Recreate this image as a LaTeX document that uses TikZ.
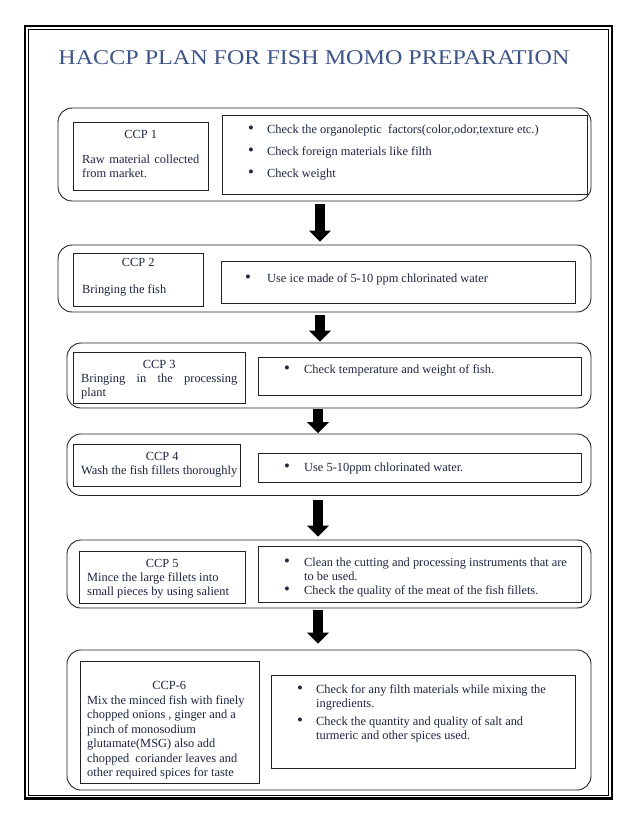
\documentclass[tikz,border=0pt]{standalone}
\usepackage{fontspec}
\usepackage{graphicx}
\setmainfont{Liberation Serif}
\usetikzlibrary{arrows.meta,fit}
\definecolor{titlecol}{HTML}{3E5687}
\definecolor{txtcol}{HTML}{1E2540}
\definecolor{linecol}{HTML}{222222}
\newcommand\bulletmark{\raisebox{-0.3pt}{\scalebox{1.35}{\textbullet}}}
\newcommand\bitem[2][17pt]{\par\noindent\hangindent=#1\hangafter=1\makebox[#1][l]{\bulletmark}#2}
\tikzset{
  obox/.style={draw=linecol, line width=0.9pt, rounded corners=14pt, inner sep=0pt},
  ibox/.style={draw=linecol, line width=0.9pt, inner sep=0pt},
  txt/.style={inner sep=0pt, anchor=base west, text=txtcol, font=\fontsize{12.4pt}{14pt}\selectfont},
  flowarrow/.style={line width=10pt, black, -{Triangle[width=22pt,length=11pt,line width=0pt]}}
}
\begin{document}
\begin{tikzpicture}[x=1pt,y=-1pt]
\useasboundingbox (0,0) rectangle (638,826);
\fill[white] (0,0) rectangle (638,826);
% page frame
\draw[line width=2.4pt] (25,26) rectangle (612,798.5);
\draw[line width=0.8pt] (28.5,29.5) rectangle (608.5,795);
% title
\node[anchor=base, inner sep=0pt, text=titlecol, font=\fontsize{21pt}{24pt}\selectfont] (title) at (314,65)
  {\scalebox{1.147}[1]{HACCP PLAN FOR FISH MOMO PREPARATION}};
\coordinate (ax1) at (320,0);
\coordinate (ax2) at (318,0);
% CCP 1
\node[obox, fit={(58,108)(591,201)}] (o1) {};
\node[ibox, fit={(73,122)(208,190.5)}] (l1) {};
\node[ibox, fit={(222,115)(587,194)}] (r1) {};
\node[txt] (lt1) at (82,139) {\parbox[t]{117pt}{\centerline{CCP 1}\vskip 11pt Raw material collected\linebreak from market.}};
\node[txt] (rt1) at (248,133.5) {\parbox[t]{327pt}{\raggedright
  \bitem[19pt]{Check the organoleptic\ \ factors(color,odor,texture etc.)}\par\vskip 8pt
  \bitem[19pt]{Check foreign materials like filth}\par\vskip 8pt
  \bitem[19pt]{Check weight}}};
% CCP 2
\node[obox, fit={(58,245)(591,312)}] (o2) {};
\node[ibox, fit={(73,253)(203,306)}] (l2) {};
\node[ibox, fit={(221,261)(575,303)}] (r2) {};
\node[txt] (lt2) at (82,266) {\parbox[t]{112pt}{\centerline{CCP 2}\vskip 13pt Bringing the fish}};
\node[txt] (rt2) at (245,282) {\parbox[t]{320pt}{\raggedright
  \bitem[22pt]{Use ice made of 5-10 ppm chlorinated water}}};
% CCP 3
\node[obox, fit={(67,343)(591,408)}] (o3) {};
\node[ibox, fit={(73,352)(245,403.5)}] (l3) {};
\node[ibox, fit={(258,357)(581,395)}] (r3) {};
\node[txt] (lt3) at (81,368.5) {\parbox[t]{156pt}{\centerline{CCP 3}Bringing in the processing\linebreak plant}};
\node[txt] (rt3) at (284,373) {\parbox[t]{290pt}{\raggedright
  \bitem[20pt]{Check temperature and weight of fish.}}};
% CCP 4
\node[obox, fit={(67,434)(591,495.5)}] (o4) {};
\node[ibox, fit={(73,444)(240,486)}] (l4) {};
\node[ibox, fit={(258,453)(581,482)}] (r4) {};
\node[txt] (lt4) at (81,460.5) {\parbox[t]{162pt}{\raggedright\centerline{CCP 4}Wash the fish fillets thoroughly}};
\node[txt] (rt4) at (284,471) {\parbox[t]{290pt}{\raggedright
  \bitem[20pt]{Use 5-10ppm chlorinated water.}}};
% CCP 5
\node[obox, fit={(67,540)(591,608)}] (o5) {};
\node[ibox, fit={(79,551)(245,603)}] (l5) {};
\node[ibox, fit={(258,546)(581,602)}] (r5) {};
\node[txt] (lt5) at (87,567) {\parbox[t]{150pt}{\raggedright\centerline{CCP 5}Mince the large fillets into\newline small pieces by using salient}};
\node[txt] (rt5) at (284,566) {\parbox[t]{293pt}{\raggedright
  \bitem[20pt]{Clean the cutting and processing instruments that are\newline to be used.}\par
  \bitem[20pt]{Check the quality of the meat of the fish fillets.}}};
% CCP 6
\node[obox, fit={(67,650)(591,790)}] (o6) {};
\node[ibox, fit={(80,661.5)(259,783)}] (l6) {};
\node[ibox, fit={(271,675)(575,768.5)}] (r6) {};
\node[txt, font=\fontsize{12.4pt}{14.5pt}\selectfont] (lt6) at (87,689.5) {\parbox[t]{164pt}{\raggedright\centerline{CCP-6}Mix the minced fish with finely\newline chopped onions , ginger and a\newline pinch of monosodium\newline glutamate(MSG) also add\newline chopped\ \ coriander leaves and\newline other required spices for taste}};
\node[txt, font=\fontsize{12.4pt}{14.5pt}\selectfont] (rt6) at (297,693) {\parbox[t]{273pt}{\raggedright
  \bitem[19pt]{Check for any filth materials while mixing the\newline ingredients.}\par\vskip 3pt
  \bitem[19pt]{Check the quantity and quality of salt and\newline turmeric and other spices used.}}};
% arrows
\draw[flowarrow, shorten <=3pt, shorten >=3pt] (o1.south -| ax1) -- (o2.north -| ax1);
\draw[flowarrow, shorten <=3pt, shorten >=1pt] (o2.south -| ax1) -- (o3.north -| ax1);
\draw[flowarrow, shorten <=0.5pt, shorten >=0.5pt] (o3.south -| ax2) -- (o4.north -| ax2);
\draw[flowarrow, shorten <=4.5pt, shorten >=3pt] (o4.south -| ax2) -- (o5.north -| ax2);
\draw[flowarrow, shorten <=2pt, shorten >=6pt] (o5.south -| ax2) -- (o6.north -| ax2);
\end{tikzpicture}
\end{document}
